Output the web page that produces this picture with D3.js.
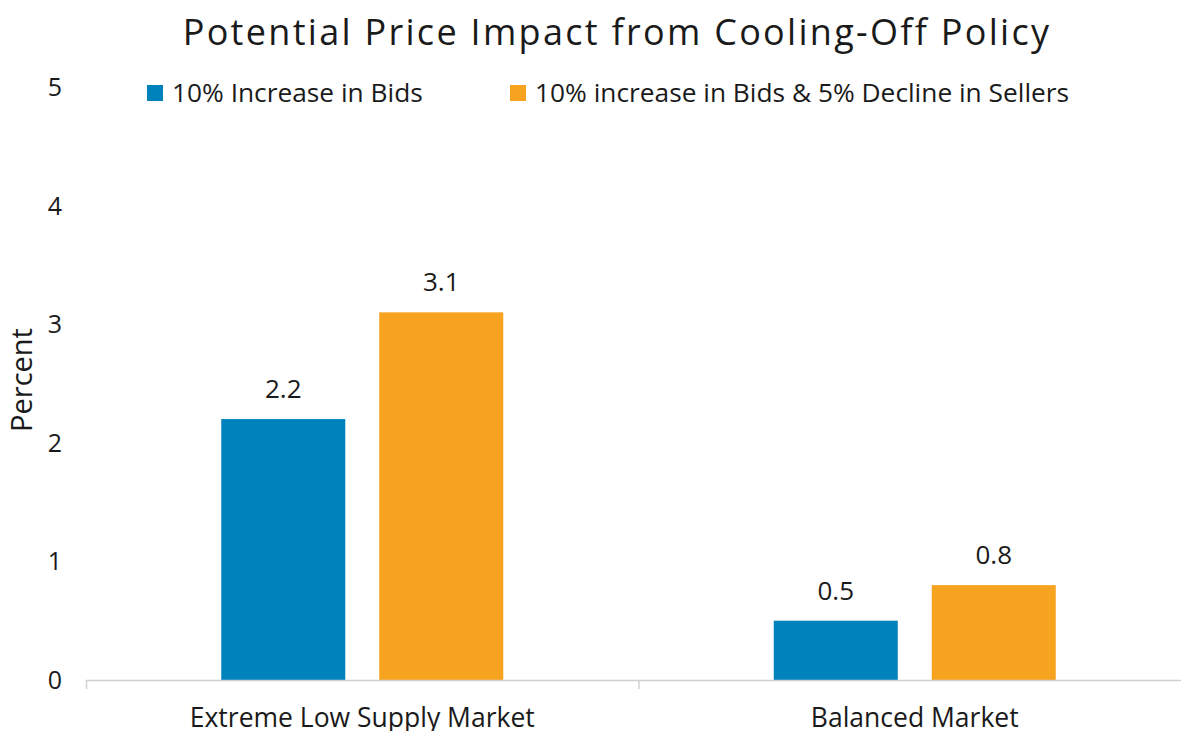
<!DOCTYPE html>
<html>
<head>
<meta charset="utf-8">
<script src="https://cdn.jsdelivr.net/npm/d3@7"></script>
<style>
	body { margin: 0; background: #fff; }
	text { font-family: 'Open Sans', sans-serif; fill: #1a1a1a; }
</style>
</head>
<body>
<svg id="chart" width="1181" height="731"></svg>
<script>
var categories = ['Extreme Low Supply Market', 'Balanced Market'];
var seriesNames = ['10% Increase in Bids', '10% increase in Bids & 5% Decline in Sellers'];
var seriesColors = ['#0083BD', '#F8A31F'];
var bidsOnly = [2.2, 0.5];
var bidsAndSellers = [3.1, 0.8];
var yTicks = [0, 1, 2, 3, 4, 5];

var svg = d3.select('#chart');

// plot area (right edge runs past the picture like the original)
var plotLeft = 86, plotRight = 1191, plotTop = 87, plotBottom = 680;

var x = d3.scaleBand().domain(categories).range([plotLeft, plotRight]);
var x1 = d3.scaleBand().domain([0, 1]).range([0, 282]).paddingInner(0.215);
var y = d3.scaleLinear().domain([0, 5]).range([plotBottom, plotTop]);

// title
svg.append('text')
	.attr('x', 617).attr('y', 45)
	.attr('text-anchor', 'middle')
	.style('font-size', '36px')
	.style('letter-spacing', '2.3px')
	.text('Potential Price Impact from Cooling-Off Policy');

// y tick labels
svg.append('g').selectAll('text').data(yTicks).enter().append('text')
	.attr('x', 55).attr('y', function(d) { return y(d) + 9; })
	.attr('text-anchor', 'middle')
	.style('font-size', '25px')
	.text(function(d) { return d; });

svg.append('text')
	.attr('transform', 'translate(32,' + 380 + ') rotate(-90)')
	.attr('text-anchor', 'middle')
	.style('font-size', '29px')
	.text('Percent');

// bars
var rows = categories.map(function(c, i) {
	return { cat: c, vals: [bidsOnly[i], bidsAndSellers[i]] };
});

var groups = svg.append('g').selectAll('g').data(rows).enter().append('g')
	.attr('transform', function(d) {
		return 'translate(' + (x(d.cat) + x.bandwidth() / 2 - 141) + ',0)';
	});

groups.each(function(d) {
	var g = d3.select(this);
	d.vals.forEach(function(v, j) {
		g.append('rect')
			.attr('x', x1(j)).attr('width', x1.bandwidth())
			.attr('y', y(v)).attr('height', y(0) - y(v))
			.attr('fill', seriesColors[j]);

		g.append('text')
			.attr('x', x1(j) + x1.bandwidth() / 2)
			.attr('y', y(v) - 21)
			.attr('text-anchor', 'middle')
			.style('font-size', '26px')
			.text(v.toFixed(1));
	});
});

// x axis
var axis = svg.append('g');
axis.append('line')
	.attr('x1', plotLeft).attr('x2', plotRight)
	.attr('y1', plotBottom + 0.5).attr('y2', plotBottom + 0.5)
	.attr('stroke', '#d0d0d0').attr('stroke-width', 1.5);

var tickPos = [plotLeft, x(categories[1]), plotRight];
axis.selectAll('line.tick').data(tickPos).enter().append('line')
	.attr('class', 'tick')
	.attr('x1', function(d) { return d + 0.5; }).attr('x2', function(d) { return d + 0.5; })
	.attr('y1', plotBottom).attr('y2', plotBottom + 9)
	.attr('stroke', '#d0d0d0').attr('stroke-width', 1.5);

axis.selectAll('text').data(categories).enter().append('text')
	.attr('x', function(d) { return x(d) + x.bandwidth() / 2; })
	.attr('y', 727)
	.attr('text-anchor', 'middle')
	.style('font-size', '26.5px')
	.text(function(d) { return d; });

// legend
var legendX = [147, 510];
var legend = svg.append('g').selectAll('g').data(seriesNames).enter().append('g')
	.attr('transform', function(d, i) { return 'translate(' + legendX[i] + ',85)'; });

legend.append('rect')
	.attr('width', 16).attr('height', 16)
	.attr('fill', function(d, i) { return seriesColors[i]; });

legend.append('text')
	.attr('x', 25).attr('y', 17)
	.style('font-size', '26.3px')
	.text(function(d) { return d; });
</script>
</body>
</html>
